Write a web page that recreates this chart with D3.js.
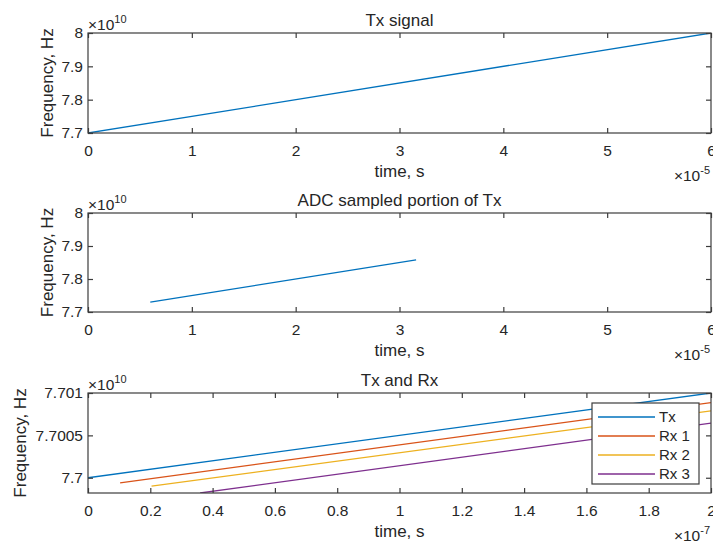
<!DOCTYPE html>
<html>
<head>
<meta charset="utf-8">
<script src="https://cdn.jsdelivr.net/npm/d3@7"></script>
<style>
  html, body { margin: 0; padding: 0; background: #fff; }
  svg { display: block; font-family: "Liberation Sans", Arial, sans-serif; }
  .tick text { fill: #262626; }
</style>
</head>
<body>
<div id="chart"></div>
<script>
// ---- data (physical units: seconds, hertz) ----
const txTime = [0, 6e-5];
const txFreq = [7.7e10, 8.0e10];

const adcTime = [0.6e-5, 3.16e-5];
const adcFreq = [7.730e10, 7.858e10];

const zoomTxTime = [0, 2e-7];
const zoomTxFreq = [7.7e10, 7.701e10];
const rx1Time = [0.103e-7, 2e-7];
const rx1Freq = [7.69994e10, 7.700886e10];
const rx2Time = [0.204e-7, 2e-7];
const rx2Freq = [7.69990e10, 7.700790e10];
const rx3Time = [0.36e-7, 2e-7];
const rx3Freq = [7.69982e10, 7.700644e10];

const seriesNames = ["Tx", "Rx 1", "Rx 2", "Rx 3"];
const seriesColors = ["#0072BD", "#D95319", "#EDB120", "#7E2F8E"];

// tick labels (mantissas shown next to the ×10^n multipliers)
const usTicks = [0, 1, 2, 3, 4, 5, 6];           // ×1e-5 s
const ghzTicks = [7.7, 7.8, 7.9, 8];             // ×1e10 Hz
const nsTicks = [0, 0.2, 0.4, 0.6, 0.8, 1, 1.2, 1.4, 1.6, 1.8, 2]; // ×1e-7 s
const zoomFreqTicks = [7.7, 7.7005, 7.701];      // ×1e10 Hz

const W = 713, H = 543;
const left = 88, right = 711;
const textColor = "#262626";
const axisColor = "#3c3c3c";

const panels = [
  {
    title: "Tx signal", top: 33, bottom: 133,
    xDomain: [0, 6e-5], xExp: -5, xTicks: usTicks,
    yDomain: [7.7e10, 8.0e10], yExp: 10, yTicks: ghzTicks,
    yLabelX: 53,
    series: [{ t: txTime, f: txFreq, color: seriesColors[0] }]
  },
  {
    title: "ADC sampled portion of Tx", top: 213, bottom: 312,
    xDomain: [0, 6e-5], xExp: -5, xTicks: usTicks,
    yDomain: [7.7e10, 8.0e10], yExp: 10, yTicks: ghzTicks,
    yLabelX: 53,
    series: [{ t: adcTime, f: adcFreq, color: seriesColors[0] }]
  },
  {
    title: "Tx and Rx", top: 393, bottom: 493,
    xDomain: [0, 2e-7], xExp: -7, xTicks: nsTicks,
    yDomain: [7.69982e10, 7.701e10], yExp: 10, yTicks: zoomFreqTicks,
    yLabelX: 26,
    series: [
      { t: zoomTxTime, f: zoomTxFreq, color: seriesColors[0], name: seriesNames[0] },
      { t: rx1Time, f: rx1Freq, color: seriesColors[1], name: seriesNames[1] },
      { t: rx2Time, f: rx2Freq, color: seriesColors[2], name: seriesNames[2] },
      { t: rx3Time, f: rx3Freq, color: seriesColors[3], name: seriesNames[3] }
    ],
    legend: true
  }
];

const svg = d3.select("#chart").append("svg")
  .attr("width", W).attr("height", H);

const tickFont = 15.5, labelFont = 17;

panels.forEach((p, i) => {
  const xs = d3.scaleLinear().domain(p.xDomain).range([left, right]);
  const ys = d3.scaleLinear().domain(p.yDomain).range([p.bottom, p.top]);
  const xm = Math.pow(10, p.xExp), ym = Math.pow(10, p.yExp);
  const xTickVals = p.xTicks.map(v => v * xm);
  const yTickVals = p.yTicks.map(v => v * ym);
  const fmtX = v => d3.format(".4~f")(v / xm);
  const fmtY = v => d3.format(".5~f")(v / ym);

  const g = svg.append("g");

  // clip region for the data lines
  const clipId = "clip" + i;
  svg.append("clipPath").attr("id", clipId)
    .append("rect").attr("x", left).attr("y", p.top)
    .attr("width", right - left).attr("height", p.bottom - p.top);

  // data lines
  const line = d3.line().x(d => xs(d[0])).y(d => ys(d[1]));
  g.append("g").attr("clip-path", `url(#${clipId})`)
    .selectAll("path").data(p.series).join("path")
    .attr("d", s => line(d3.zip(s.t, s.f)))
    .attr("fill", "none")
    .attr("stroke", s => s.color)
    .attr("stroke-width", 1.3);

  // axes with inward ticks on all four sides
  const styleAxis = sel => {
    sel.select(".domain").remove();
    sel.selectAll(".tick line").attr("stroke", axisColor).attr("stroke-width", 1.2);
    sel.selectAll(".tick text").attr("font-size", tickFont).attr("fill", textColor);
  };
  g.append("g").attr("transform", `translate(0,${p.bottom})`)
    .call(d3.axisBottom(xs).tickValues(xTickVals).tickFormat(fmtX)
      .tickSizeInner(-5).tickSizeOuter(0).tickPadding(12))
    .call(styleAxis);
  g.append("g").attr("transform", `translate(0,${p.top})`)
    .call(d3.axisTop(xs).tickValues(xTickVals).tickFormat("")
      .tickSizeInner(-5).tickSizeOuter(0))
    .call(styleAxis);
  g.append("g").attr("transform", `translate(${left},0)`)
    .call(d3.axisLeft(ys).tickValues(yTickVals).tickFormat(fmtY)
      .tickSizeInner(-5).tickSizeOuter(0).tickPadding(5))
    .call(styleAxis);
  g.append("g").attr("transform", `translate(${right},0)`)
    .call(d3.axisRight(ys).tickValues(yTickVals).tickFormat("")
      .tickSizeInner(-5).tickSizeOuter(0))
    .call(styleAxis);

  // axes box
  g.append("rect").attr("x", left).attr("y", p.top)
    .attr("width", right - left).attr("height", p.bottom - p.top)
    .attr("fill", "none").attr("stroke", axisColor).attr("stroke-width", 1.2);

  // title
  g.append("text").attr("x", (left + right) / 2).attr("y", p.top - 7)
    .attr("text-anchor", "middle").attr("font-size", labelFont)
    .attr("fill", textColor).text(p.title);

  // x label
  g.append("text").attr("x", (left + right) / 2).attr("y", p.bottom + 44)
    .attr("text-anchor", "middle").attr("font-size", labelFont)
    .attr("fill", textColor).text("time, s");

  // y label
  g.append("text")
    .attr("transform", `translate(${p.yLabelX},${(p.top + p.bottom) / 2}) rotate(-90)`)
    .attr("text-anchor", "middle").attr("font-size", labelFont)
    .attr("fill", textColor).text("Frequency, Hz");

  // y multiplier
  const yMul = g.append("text").attr("x", left).attr("y", p.top - 3)
    .attr("font-size", tickFont).attr("fill", textColor);
  yMul.append("tspan").text("\u00d710");
  yMul.append("tspan").attr("font-size", 11).attr("dy", -7).text(String(p.yExp));

  // x multiplier
  const xMul = g.append("text").attr("x", right - 1).attr("y", p.bottom + 48)
    .attr("text-anchor", "end").attr("font-size", tickFont).attr("fill", textColor);
  xMul.append("tspan").text("\u00d710");
  xMul.append("tspan").attr("font-size", 11).attr("dy", -7).text(String(p.xExp));

  // legend
  if (p.legend) {
    const lx = 592, ly = 403, lw = 107, lh = 81;
    const lg = g.append("g");
    lg.append("rect").attr("x", lx).attr("y", ly).attr("width", lw).attr("height", lh)
      .attr("fill", "#fff").attr("stroke", axisColor).attr("stroke-width", 1.2);
    const rows = lg.selectAll("g.row").data(p.series).join("g")
      .attr("class", "row")
      .attr("transform", (d, k) => `translate(0,${ly + 14 + k * 19})`);
    rows.append("line").attr("x1", lx + 6).attr("x2", lx + 63)
      .attr("stroke", d => d.color).attr("stroke-width", 1.3);
    rows.append("text").attr("x", lx + 67).attr("dy", "0.35em")
      .attr("font-size", 15).attr("fill", textColor).text(d => d.name);
  }
});
</script>
</body>
</html>
